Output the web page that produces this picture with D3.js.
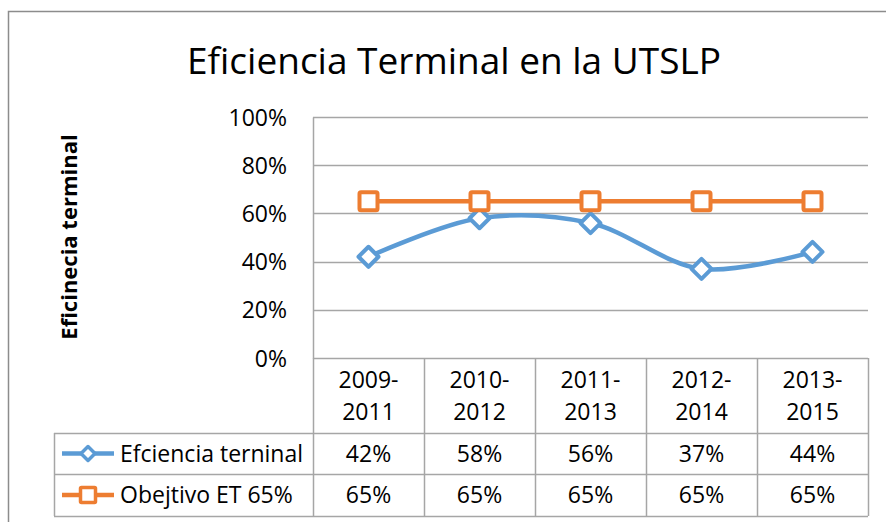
<!DOCTYPE html>
<html><head><meta charset="utf-8">
<script src="https://cdn.jsdelivr.net/npm/d3@7"></script>
<style>body{margin:0;background:#fff}svg{display:block}text{font-family:"Open Sans",sans-serif;fill:#000}</style>
</head><body><svg id="c" width="886" height="522"></svg>
<script>
const categories = ["2009-2011","2010-2012","2011-2013","2012-2014","2013-2015"];
const efficiency = [0.42,0.58,0.56,0.37,0.44];
const target = [0.65,0.65,0.65,0.65,0.65];
const yTicks = [0,0.2,0.4,0.6,0.8,1.0];
const seriesNames = ["Efciencia terninal","Obejtivo ET 65%"];
const title = "Eficiencia Terminal en la UTSLP";
const yTitle = "Eficinecia terminal";

const svg = d3.select("#c");
const W=886,H=522;
const L=313,R=868,T=117,B=358;
const rowY=[358,433,474,516];
const legendLeft=54;
const blue="#5B9BD5", orange="#ED7D31", grid="#A6A6A6";
const fs="23px";

svg.append("rect").attr("width",W).attr("height",H).attr("fill","#fff");
svg.append("rect").attr("x",8.5).attr("y",11.5).attr("width",900).attr("height",600)
  .attr("fill","none").attr("stroke","#8c8c8c").attr("stroke-width",1.5);

const x = d3.scaleBand().domain(categories).range([L,R]);
const y = d3.scaleLinear().domain([0,1]).range([B,T]);

// title
svg.append("text").attr("x",454).attr("y",74).attr("text-anchor","middle")
  .style("font-size","37px").text(title);

// gridlines
svg.append("g").selectAll("line").data(yTicks.filter(d=>d>0)).join("line")
  .attr("x1",L).attr("x2",R).attr("y1",d=>Math.round(y(d))+0.5).attr("y2",d=>Math.round(y(d))+0.5)
  .attr("stroke",grid).attr("stroke-width",1.5);

// y axis
const ya = svg.append("g").attr("transform",`translate(${L},0)`)
  .call(d3.axisLeft(y).tickValues(yTicks).tickSize(0).tickPadding(26).tickFormat(d3.format(".0%")));
ya.select(".domain").attr("stroke",grid).attr("stroke-width",1.5);
ya.selectAll("text").style("font-size",fs).style("font-family","'Open Sans'").attr("dy","0.35em");

// y title
svg.append("text").attr("transform","translate(77,237) rotate(-90)").attr("text-anchor","middle")
  .style("font-size","22px").style("font-weight","bold").text(yTitle);

// table lines
const tg = svg.append("g").attr("stroke",grid).attr("stroke-width",1.5);
rowY.forEach((ry,i)=>{
  tg.append("line").attr("x1",i===0?L:legendLeft).attr("x2",R).attr("y1",ry+0.5).attr("y2",ry+0.5);
});
categories.forEach(c=>{
  tg.append("line").attr("x1",x(c)+0.5).attr("x2",x(c)+0.5).attr("y1",B).attr("y2",rowY[3]);
});
tg.append("line").attr("x1",R+0.5).attr("x2",R+0.5).attr("y1",B).attr("y2",rowY[3]);
tg.append("line").attr("x1",legendLeft+0.5).attr("x2",legendLeft+0.5).attr("y1",rowY[1]).attr("y2",rowY[3]);

// header labels (two lines each)
const hx = svg.append("g");
categories.forEach(c=>{
  const parts = c.split("-");
  hx.append("text").attr("text-anchor","middle").style("font-size",fs)
    .attr("x",x(c)+x.bandwidth()/2).attr("y",388).text(parts[0]+"-");
  hx.append("text").attr("text-anchor","middle").style("font-size",fs)
    .attr("x",x(c)+x.bandwidth()/2).attr("y",420).text(parts[1]);
});

// values rows
[efficiency,target].forEach((vals,r)=>{
  const cy=(rowY[r+1]+rowY[r+2])/2;
  svg.append("g").selectAll("text").data(vals).join("text")
    .attr("x",(d,i)=>x(categories[i])+x.bandwidth()/2).attr("y",cy).attr("dy","0.35em")
    .attr("text-anchor","middle").style("font-size",fs).text(d=>d3.format(".0%")(d));
});

// lines
const cx=(d,i)=>x(categories[i])+x.bandwidth()/2;
const line1=d3.line().x(cx).y(d=>y(d)).curve(d3.curveCatmullRom.alpha(0.5));
const line2=d3.line().x(cx).y(d=>y(d));
svg.append("path").datum(efficiency).attr("d",line1).attr("fill","none").attr("stroke",blue).attr("stroke-width",4.5);
svg.append("path").datum(target).attr("d",line2).attr("fill","none").attr("stroke",orange).attr("stroke-width",4.5);

const diamond = h => `M0,${-h}L${h},0L0,${h}L${-h},0Z`;
svg.append("g").selectAll("path").data(efficiency).join("path")
  .attr("transform",(d,i)=>`translate(${cx(d,i)},${y(d)})`).attr("d",diamond(10))
  .attr("fill","#fff").attr("stroke",blue).attr("stroke-width",4).attr("stroke-linejoin","round");
svg.append("g").selectAll("rect").data(target).join("rect")
  .attr("x",(d,i)=>cx(d,i)-9).attr("y",d=>y(d)-9).attr("width",18).attr("height",18).attr("rx",1.5)
  .attr("fill","#fff").attr("stroke",orange).attr("stroke-width",4);

// legend keys
[blue,orange].forEach((col,r)=>{
  const cy=(rowY[r+1]+rowY[r+2])/2;
  svg.append("line").attr("x1",62).attr("x2",114).attr("y1",cy).attr("y2",cy).attr("stroke",col).attr("stroke-width",4.5);
  if(r===0){
    svg.append("path").attr("transform",`translate(88,${cy})`).attr("d",diamond(7))
      .attr("fill","#fff").attr("stroke",col).attr("stroke-width",3.5).attr("stroke-linejoin","round");
  } else {
    svg.append("rect").attr("x",80.5).attr("y",cy-7.5).attr("width",15).attr("height",15).attr("rx",1)
      .attr("fill","#fff").attr("stroke",col).attr("stroke-width",3.5);
  }
  svg.append("text").attr("x",120).attr("y",cy).attr("dy","0.35em").style("font-size",fs).text(seriesNames[r]);
});
</script></body></html>
